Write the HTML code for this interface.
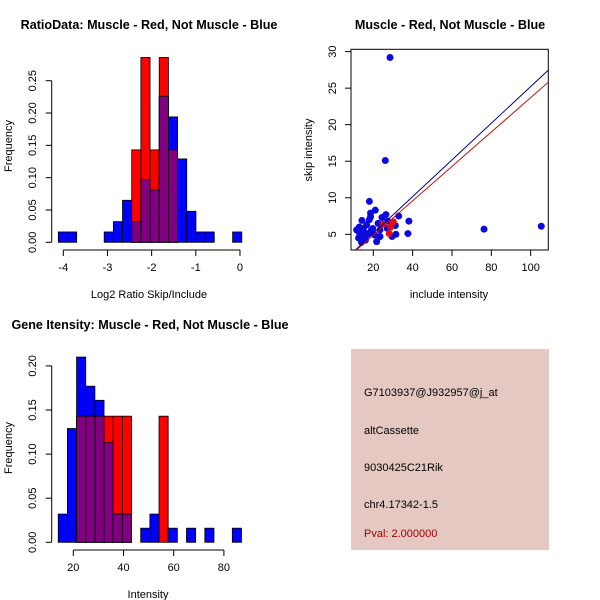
<!DOCTYPE html>
<html><head><meta charset="utf-8"><style>
body{margin:0;background:#fff}
svg{display:block;font-family:"Liberation Sans",sans-serif}
</style></head><body>
<svg id="c" width="600" height="600" viewBox="0 0 600 600">
<rect width="600" height="600" fill="#fff"/>
<text x="149" y="29" text-anchor="middle" font-size="12.6" font-weight="bold">RatioData: Muscle - Red, Not Muscle - Blue</text>
<text x="450" y="29" text-anchor="middle" font-size="12.6" font-weight="bold">Muscle - Red, Not Muscle - Blue</text>
<text x="150" y="329" text-anchor="middle" font-size="12.6" font-weight="bold">Gene Itensity: Muscle - Red, Not Muscle - Blue</text>
<text x="149" y="298" text-anchor="middle" font-size="11">Log2 Ratio Skip/Include</text>
<text x="148" y="598" text-anchor="middle" font-size="11">Intensity</text>
<text x="449" y="298" text-anchor="middle" font-size="11">include intensity</text>
<text transform="translate(12,146) rotate(-90)" text-anchor="middle" font-size="11">Frequency</text>
<text transform="translate(12,448) rotate(-90)" text-anchor="middle" font-size="11">Frequency</text>
<text transform="translate(312,150) rotate(-90)" text-anchor="middle" font-size="11">skip intensity</text>
<g>
<rect x="351" y="349" width="198" height="201" fill="#e6c8c2"/>
<text x="364" y="396" font-size="11">G7103937@J932957@j_at</text>
<text x="364" y="434" font-size="11">altCassette</text>
<text x="364" y="471" font-size="11">9030425C21Rik</text>
<text x="364" y="508" font-size="11">chr4.17342-1.5</text>
<text x="364" y="537" font-size="11" fill="#a00000">Pval: 2.000000</text>
</g>
<g id="g"></g>
</svg>
<script>
// ratio histogram
const ratioStart = -4.113, ratioWidth = 0.2077;
const ratioBlue = [0.016,0.016,0,0,0,0.016,0.032,0.065,0.032,0.097,0.081,0.226,0.194,0.129,0.048,0.016,0.016,0,0,0.016];
const ratioRed  = [0,0,0,0,0,0,0,0,0.143,0.286,0.143,0.286,0.143,0,0,0,0,0,0,0];
const ratioXTicks = [-4,-3,-2,-1,0];
const ratioYTicks = [0,0.05,0.10,0.15,0.20,0.25];
const ratioYLabels = ["0.00","0.05","0.10","0.15","0.20","0.25"];
// intensity histogram
const intStart = 14.0, intWidth = 3.65;
const intBlue = [0.032,0.129,0.21,0.177,0.161,0.113,0.032,0.032,0,0.016,0.032,0,0.016,0,0.016,0,0.016,0,0,0.016];
const intRed  = [0,0,0.143,0.143,0.143,0.143,0.143,0.143,0,0,0,0.143,0,0,0,0,0,0,0,0];
const intXTicks = [20,40,60,80];
const intYTicks = [0,0.05,0.10,0.15,0.20];
const intYLabels = ["0.00","0.05","0.10","0.15","0.20"];
// scatter
const blueX = [28.5,26.1,18.0,21.0,18.6,18.6,26.4,24.4,32.9,38.1,27.3,18,16.6,22.4,12.9,15,19.7,27.1,31.2,37.6,31.5,29.5,23.4,21.7,13.2,12.5,15,16,14,17.6,19,20.7,76.3,105.4,14.2,11.5,16.6,14.2,23.4,13.5,15.5,12.8];
const blueY = [29.2,15.1,9.5,8.3,7.9,7.4,7.7,7.3,7.5,6.8,6.8,7.0,6.3,6.5,6.0,5.8,5.8,5.8,6.2,5.1,5.0,4.7,4.7,4.0,5.1,4.5,4.9,4.2,3.9,5.1,5.6,4.9,5.7,6.1,6.9,5.6,5.1,5.5,5.6,4.3,4.6,5.3];
const redX = [30.2,25.1,28.1,28.8];
const redY = [6.7,6.4,5.1,6.0];
const blueFit = [0.12,0.251];
const redFit = [0.16,0.2355];
const scXTicks = [20,40,60,80,100];
const scYTicks = [5,10,15,20,25,30];

const NS='http://www.w3.org/2000/svg', G=document.getElementById('g');
function mk(t,a,p){const e=document.createElementNS(NS,t);for(const k in a)e.setAttribute(k,a[k]);(p||G).appendChild(e);return e;}

function hist(name,start,w,blue,red,xt,yt,yl,x0,xs,y0,ys,axY){
  const X=v=>x0+(v-xt[0])*xs, Y=v=>y0-v*ys;
  for(let i=0;i<blue.length;i++){
    const a=start+i*w, b=a+w, bx=X(a), bw=X(b)-X(a);
    const bar=(v,c,n)=>{if(v<=0)return;const r=mk('rect',{x:bx,y:Y(v),width:bw,height:Y(0)-Y(v),fill:c,stroke:'#000','stroke-width':0.8});
      
      };
    bar(blue[i],'#0000ff',name+'-blue-bar');
    bar(red[i],'#ff0000',name+'-red-bar');
    bar(Math.min(blue[i],red[i]),'#800080',name+'-overlap-bar');
  }
  mk('line',{x1:X(xt[0]),x2:X(xt[xt.length-1]),y1:axY,y2:axY,stroke:'#000'});
  xt.forEach(t=>{mk('line',{x1:X(t),x2:X(t),y1:axY,y2:axY+6,stroke:'#000'});
    const tx=mk('text',{x:X(t),y:axY+21,'text-anchor':'middle','font-size':11});tx.textContent=t;
    
    });
  const ax=51.7;
  mk('line',{x1:ax,x2:ax,y1:Y(yt[0]),y2:Y(yt[yt.length-1]),stroke:'#000'});
  yt.forEach((t,i)=>{mk('line',{x1:ax-6,x2:ax,y1:Y(t),y2:Y(t),stroke:'#000'});
    const tx=mk('text',{transform:`translate(36,${Y(t)}) rotate(-90)`,'text-anchor':'middle','font-size':11});tx.textContent=yl[i];
    
    });
}
hist('ratio',ratioStart,ratioWidth,ratioBlue,ratioRed,ratioXTicks,ratioYTicks,ratioYLabels,63.3,44.17,242.3,646.4,250);
hist('intensity',intStart,intWidth,intBlue,intRed,intXTicks,intYTicks,intYLabels,73.3,2.51,542.3,882,550);

// scatter
const SX=v=>373.3+(v-20)*1.967, SY=v=>234.3-(v-5)*7.307;
const L=351,R=548.3,T=49.3,B=250;
mk('rect',{x:L,y:T,width:R-L,height:B-T,fill:'none',stroke:'#000'});
const cp=mk('clipPath',{id:'cp'});mk('rect',{x:L,y:T,width:R-L,height:B-T},cp);
scXTicks.forEach(t=>{mk('line',{x1:SX(t),x2:SX(t),y1:B,y2:B+6,stroke:'#000'});
  const tx=mk('text',{x:SX(t),y:B+21,'text-anchor':'middle','font-size':11});tx.textContent=t;
  
  });
scYTicks.forEach(t=>{mk('line',{x1:L-6,x2:L,y1:SY(t),y2:SY(t),stroke:'#000'});
  const tx=mk('text',{transform:`translate(336,${SY(t)}) rotate(-90)`,'text-anchor':'middle','font-size':11});tx.textContent=t;
  
  });
const pg=mk('g',{'clip-path':'url(#cp)'});
blueX.forEach((x,i)=>{const c=mk('circle',{cx:SX(x),cy:SY(blueY[i]),r:3.5,fill:'#0a0ae0'},pg);
  
  });
redX.forEach((x,i)=>{const c=mk('circle',{cx:SX(x),cy:SY(redY[i]),r:3.5,fill:'#e01010'},pg);
  
  });
[[blueFit,'#00008b','blue-fit-line'],[redFit,'#c01010','red-fit-line']].forEach(([f,c,n])=>{
  const l=mk('line',{x1:SX(0),y1:SY(f[0]),x2:SX(120),y2:SY(f[0]+f[1]*120),stroke:c,'stroke-width':1},pg);
  
  });
</script>
</body></html>
